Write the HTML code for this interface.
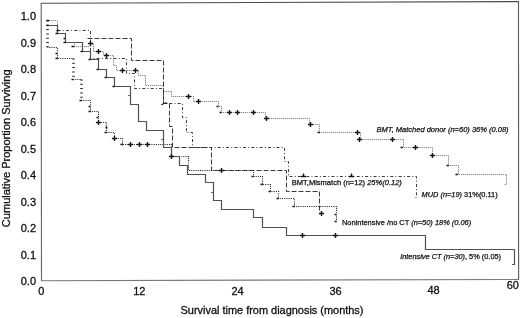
<!DOCTYPE html>
<html><head><meta charset="utf-8"><title>Survival curves</title>
<style>
html,body{margin:0;padding:0;background:#fff;}
body{width:520px;height:318px;overflow:hidden;}
svg{display:block;will-change:transform;opacity:.999;}
text{font-family:"Liberation Sans",Arial,Helvetica,sans-serif;fill:#111;stroke:#111;stroke-width:.3px;}
.tk{font-size:11px;stroke-width:.32px;}
.ax{font-size:10.95px;}
.lb{font-size:7.5px;stroke-width:.25px;}
.i{font-style:italic;}
.A{fill:none;stroke:#505050;stroke-width:1.2;}
.B{fill:none;stroke:#2a2a2a;stroke-width:1.1;stroke-dasharray:1.1 1.1;stroke-dashoffset:.5;}
.Bl{fill:none;stroke:#222;stroke-width:2.6;stroke-dasharray:1 3.3;}
.C{fill:none;stroke:#8a8a8a;stroke-width:1;stroke-dasharray:1 1;stroke-dashoffset:.5;}
.C0{fill:none;stroke:#e2e2e2;stroke-width:1.2;}
.D{fill:none;stroke:#3a3a3a;stroke-width:1;stroke-dasharray:5 2;}
.E{fill:none;stroke:#3a3a3a;stroke-width:1;stroke-dasharray:3 2.2 1 2.2;}
.p{fill:none;stroke:#161616;stroke-width:1.4;}
.fr{fill:none;stroke:#707070;stroke-width:1.15;}
</style></head><body>
<svg width="520" height="318" viewBox="0 0 520 318">
<rect width="520" height="318" fill="#fff"/>
<path class="fr" stroke-linecap="square" style="stroke:#4c4c4c" d="M41.2,3.2 L518.5,1.6"/>
<path class="fr" style="stroke:#5e5e5e" d="M518.5,1.6 L518.6,279.5"/>
<path class="fr" stroke-linecap="square" style="stroke:#787878" d="M518.6,279.5 L41.5,280.7"/>
<path class="fr" style="stroke:#6a6a6a" d="M41.5,280.7 L41.2,3.2"/>
<g class="tk" text-anchor="end">
<text x="36" y="20.0">1.0</text>
<text x="36" y="46.5">0.9</text>
<text x="36" y="73.0">0.8</text>
<text x="36" y="99.5">0.7</text>
<text x="36" y="126.0">0.6</text>
<text x="36" y="152.5">0.5</text>
<text x="36" y="179.0">0.4</text>
<text x="36" y="205.5">0.3</text>
<text x="36" y="232.0">0.2</text>
<text x="36" y="258.5">0.1</text>
<text x="36" y="285.0">0.0</text>
</g>
<g class="tk" text-anchor="middle">
<text x="41.4" y="295">0</text>
<text x="139.3" y="294.5">12</text>
<text x="237.5" y="294.5">24</text>
<text x="335.5" y="294.5">36</text>
<text x="433.5" y="294.4">48</text>
<text x="512.8" y="288.9">60</text>
</g>
<text class="ax" x="272" y="314" text-anchor="middle" id="xl">Survival time from diagnosis (months)</text>
<text class="ax" transform="translate(10.1,148.3) rotate(-90)" text-anchor="middle" id="yl" style="font-size:11.05px">Cumulative Proportion Surviving</text>
<path class="C0" d="M47.5,20.5H57.5V25.5M74.5,42.5V46.5H90.5M90.5,43.5H93.5V51.5H103.5V55.5H113.5V65.5H116.5V70.5H138.5V75.5H145.5V85.5H163.5V91.5H171.5V96.5H193.5V101.5H218.5V106.5H221.5V112.5H265.5V118.5H309.5V124.5H319.5V132.5H360.5V139.5H403.5V147.5H432.5V155.5H448.5V165.5H458.5V174.5H506.5V184.5h-2.5"/>
<path class="C" d="M47.5,20.5H57.5V25.5M74.5,42.5V46.5H90.5M90.5,43.5H93.5V51.5H103.5V55.5H113.5V65.5H116.5V70.5H138.5V75.5H145.5V85.5H163.5V91.5H171.5V96.5H193.5V101.5H218.5V106.5H221.5V112.5H265.5V118.5H309.5V124.5H319.5V132.5H360.5V139.5H403.5V147.5H432.5V155.5H448.5V165.5H458.5V174.5H506.5V184.5h-2.5"/>
<path class="E" d="M57.5,30.5H90.5V58.5H126.5V73.5H134.5V88.5H163.5V103.5H182.5V117.5H186.5V132.5H192.5V147.5H284.5V161.5H288.5V176.5H416.5V197.5h-2.5"/>
<path class="D" d="M87.5,38.5H131.5V60.5H163.5V103.5H169.5V126.5H172.5V147.5H211.5V170.5H286.5V191.5H319.5V212.5"/>
<path class="Bl" d="M47.5,20.5V47.5M73.5,58.5V79.5M81.5,79.5V100.5"/>
<path class="B" d="M47.5,47.5H57.5V58.5H73.5M73.5,79.5H81.5M81.5,100.5H90.5V111.5H98.5V122.5H106.5V132.5H114.5V138.5H122.5V144.5H171.5V156.5M181.5,156.5H188.5V170.5H253.5V176.5H262.5V184.5H270.5V191.5H278.5V198.5H294.5V206.5H336.5V221.5"/>
<path class="A" d="M47.5,25.5H57.5V33.5H65.5V42.5H82.5V51.5H90.5V59.5H98.5V69.5H106.5V77.5H114.5V86.5H130.5V104.5H138.5V121.5H146.5V130.5H163.5V147.5H171.5V156.5H179.5V165.5H187.5V174.5H205.5V182.5H213.5V200.5H221.5V209.5H253.5V217.5H262.5V227.5H286.5V235.5H425.5V249.5H514.5V264.5h-2.5M130.5,95.5h-2.2M163.5,139.5h-2.2M213.5,192.5h-2.2"/>
<path class="p" d="M168.9,156.5h5.2M171.5,153.9v5.2M299.9,235.5h5.2M302.5,232.9v5.2M332.9,235.5h5.2M335.5,232.9v5.2M95.9,122.5h5.2M98.5,119.9v5.2M111.9,138.5h5.2M114.5,135.9v5.2M127.9,144.5h5.2M130.5,141.9v5.2M136.9,144.5h5.2M139.5,141.9v5.2M144.9,144.5h5.2M147.5,141.9v5.2M218.9,170.5h5.2M221.5,167.9v5.2M87.9,43.5h5.2M90.5,40.9v5.2M95.9,51.5h5.2M98.5,48.9v5.2M103.9,55.5h5.2M106.5,52.9v5.2M119.9,70.5h5.2M122.5,67.9v5.2M132.9,70.5h5.2M135.5,67.9v5.2M185.9,96.5h5.2M188.5,93.9v5.2M195.9,101.5h5.2M198.5,98.9v5.2M226.9,112.5h5.2M229.5,109.9v5.2M234.9,112.5h5.2M237.5,109.9v5.2M250.9,112.5h5.2M253.5,109.9v5.2M263.9,118.5h5.2M266.5,115.9v5.2M307.9,124.5h5.2M310.5,121.9v5.2M354.9,132.5h5.2M357.5,129.9v5.2M356.9,139.5h5.2M359.5,136.9v5.2M389.9,139.5h5.2M392.5,136.9v5.2M412.9,147.5h5.2M415.5,144.9v5.2M429.9,155.5h5.2M432.5,152.9v5.2M318.9,213.5h5.2M321.5,210.9v5.2M301,176.5h5M303.5,173.5v3M349,176.5h5M351.5,173.5v3"/>
<path class="p" d="M46.5,20.5h2.6M56.5,30.5h2.4M46.5,25.5h2M71.5,46.5h2.8M63.5,38.5h2M55.5,33.5h2.3M63.5,42.5h2M80.5,51.5h2.2M88.5,59.5h2.3M96.5,69.5h2.1M104.5,77.5h2.2M112.5,86.5h2.2M79.5,100.5h2.4M88.5,111.5h2.4M88.5,106.5h1.8M96.5,117.5h1.8M104.5,132.5h2.4M105.5,127.5h1.8M120.5,144.5h2.4M55.5,58.5h2.2M55.5,53.5h1.8M71.5,79.5h2.2M251.5,176.5h2.2M260.5,184.5h2.2M268.5,191.5h2.2M276.5,198.5h2.2M292.5,206.5h2.2M334.5,221.5h2.2M334.5,214.5h1.8M446.5,165.5h2.4M455.5,174.5h2.4M317.5,132.5h2.4M400.5,147.5h2.4M219.5,112.5h2.2M216.5,106.5h2"/>
<path class="p" style="stroke-width:1.1" d="M161.3,104.8 L166.6,102.6"/>
<text class="lb i" x="376.5" y="132" id="l1" style="font-size:7.5px">BMT, Matched donor (n=60) 36% (0.08)</text>
<text class="lb" x="291.8" y="185.2" id="l2" style="font-size:7.53px">BMT,Mismatch (n=12) <tspan class="i">25%(0.12)</tspan></text>
<text class="lb" x="421.6" y="196.8" id="l3" style="font-size:7.4px"><tspan class="i">MUD (n=19)</tspan> 31%(0.11)</text>
<text class="lb" x="342" y="224.5" id="l4" style="font-size:7.43px">Nonintensive /no CT <tspan class="i">(n=50) 18% (0.06)</tspan></text>
<text class="lb" x="400.2" y="259.2" id="l5" style="font-size:7.37px"><tspan class="i">Intensive CT (n=30)</tspan>, 5% (0.05)</text>
</svg>
</body></html>
